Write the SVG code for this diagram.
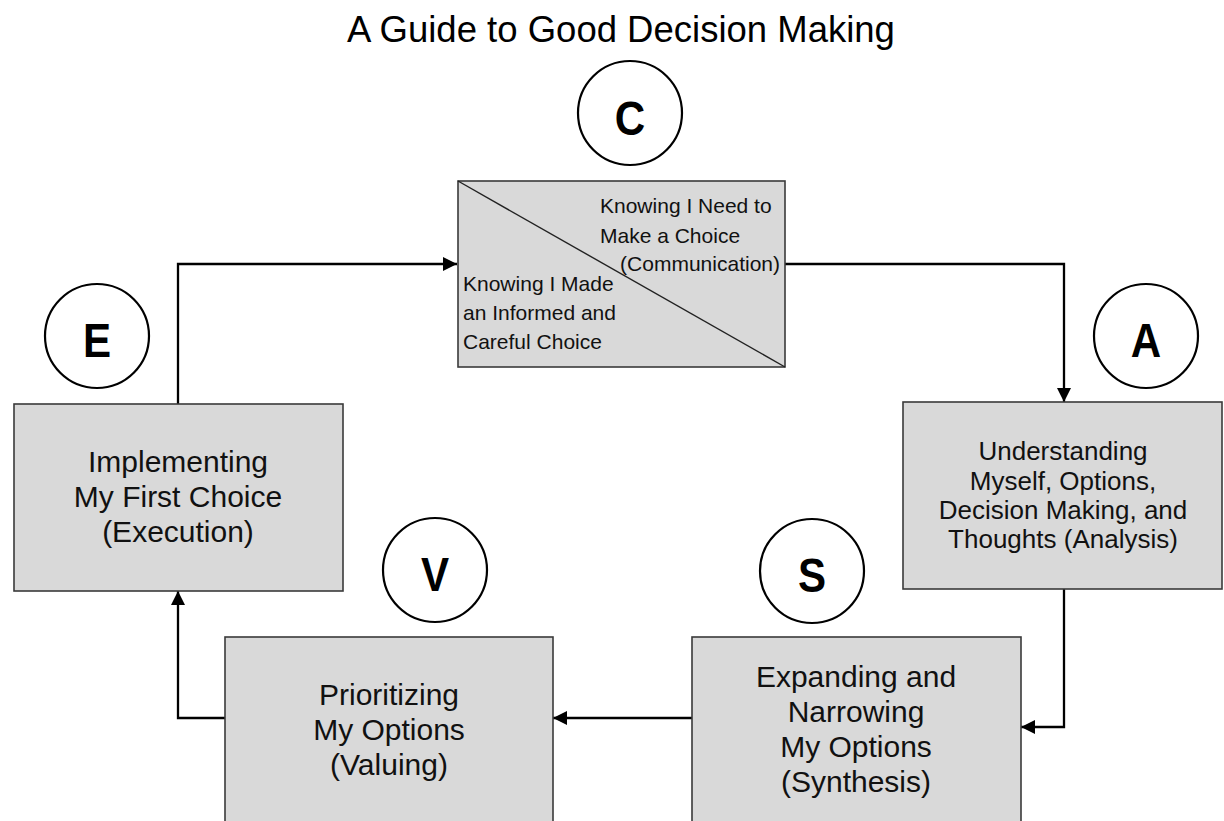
<svg xmlns="http://www.w3.org/2000/svg" width="1224" height="821" viewBox="0 0 1224 821">
  <style>
    .box { fill: #d9d9d9; stroke: #3a3a3a; stroke-width: 1.6; }
    .badge { fill: #ffffff; stroke: #000000; stroke-width: 2.2; }
    .badge-letter { font-family: "Liberation Sans", Arial, sans-serif; font-weight: bold; font-size: 49px; fill: #000000; text-anchor: middle; }
    .label { font-family: "Liberation Sans", Arial, sans-serif; font-size: 30px; fill: #111111; text-anchor: middle; }
    .label-sm { font-family: "Liberation Sans", Arial, sans-serif; font-size: 26px; fill: #111111; text-anchor: middle; }
    .label-c { font-family: "Liberation Sans", Arial, sans-serif; font-size: 21px; fill: #111111; }
    .title { font-family: "Liberation Sans", Arial, sans-serif; font-size: 36.5px; fill: #000000; text-anchor: middle; }
    .wire { fill: none; stroke: #000000; stroke-width: 2.3; }
  </style>
  <defs>
    <marker id="arrow" markerUnits="userSpaceOnUse" markerWidth="15" markerHeight="14" refX="14" refY="7" orient="auto">
      <path d="M0,0 L14,7 L0,14 z" fill="#000000"/>
    </marker>
  </defs>

  <rect width="1224" height="821" fill="#ffffff"/>

  <text class="title" x="621" y="42">A Guide to Good Decision Making</text>

  <!-- connectors between the five stages -->
  <g id="connectors">
    <path class="wire" d="M178,404 V264 H457" marker-end="url(#arrow)"/>
    <path class="wire" d="M785,264 H1064 V402" marker-end="url(#arrow)"/>
    <path class="wire" d="M1064,589 V727 H1021" marker-end="url(#arrow)"/>
    <path class="wire" d="M692,718 H553" marker-end="url(#arrow)"/>
    <path class="wire" d="M225,718 H178 V591" marker-end="url(#arrow)"/>
  </g>

  <!-- C: communication -->
  <g id="node-c">
    <circle class="badge" cx="630" cy="113" r="52"/>
    <text class="badge-letter" transform="translate(630,135) scale(0.86,1)">C</text>
    <rect class="box" x="458" y="181" width="327" height="186"/>
    <line x1="458" y1="181" x2="785" y2="367" stroke="#222222" stroke-width="1.4"/>
    <text class="label-c" x="600" y="213">Knowing I Need to</text>
    <text class="label-c" x="600" y="243">Make a Choice</text>
    <text class="label-c" x="780" y="271" text-anchor="end" font-size="19">(Communication)</text>
    <text class="label-c" x="463" y="291">Knowing I Made</text>
    <text class="label-c" x="463" y="320">an Informed and</text>
    <text class="label-c" x="463" y="349">Careful Choice</text>
  </g>

  <!-- A: analysis -->
  <g id="node-a">
    <circle class="badge" cx="1146" cy="336" r="52"/>
    <text class="badge-letter" transform="translate(1146,357) scale(0.86,1)">A</text>
    <rect class="box" x="903" y="402" width="319" height="187"/>
    <text class="label-sm" x="1063" y="460">Understanding</text>
    <text class="label-sm" x="1063" y="490">Myself, Options,</text>
    <text class="label-sm" x="1063" y="519">Decision Making, and</text>
    <text class="label-sm" x="1063" y="548">Thoughts (Analysis)</text>
  </g>

  <!-- S: synthesis -->
  <g id="node-s">
    <circle class="badge" cx="812" cy="571" r="52"/>
    <text class="badge-letter" transform="translate(812,592) scale(0.86,1)">S</text>
    <rect class="box" x="692" y="637" width="329" height="200"/>
    <text class="label" x="856" y="687">Expanding and</text>
    <text class="label" x="856" y="722">Narrowing</text>
    <text class="label" x="856" y="757">My Options</text>
    <text class="label" x="856" y="792">(Synthesis)</text>
  </g>

  <!-- V: valuing -->
  <g id="node-v">
    <circle class="badge" cx="435" cy="570" r="52"/>
    <text class="badge-letter" transform="translate(435,591) scale(0.86,1)">V</text>
    <rect class="box" x="225" y="637" width="328" height="200"/>
    <text class="label" x="389" y="705">Prioritizing</text>
    <text class="label" x="389" y="740">My Options</text>
    <text class="label" x="389" y="775">(Valuing)</text>
  </g>

  <!-- E: execution -->
  <g id="node-e">
    <circle class="badge" cx="97" cy="336" r="52"/>
    <text class="badge-letter" transform="translate(97,357) scale(0.86,1)">E</text>
    <rect class="box" x="14" y="404" width="329" height="187"/>
    <text class="label" x="178" y="472">Implementing</text>
    <text class="label" x="178" y="507">My First Choice</text>
    <text class="label" x="178" y="542">(Execution)</text>
  </g>
</svg>
